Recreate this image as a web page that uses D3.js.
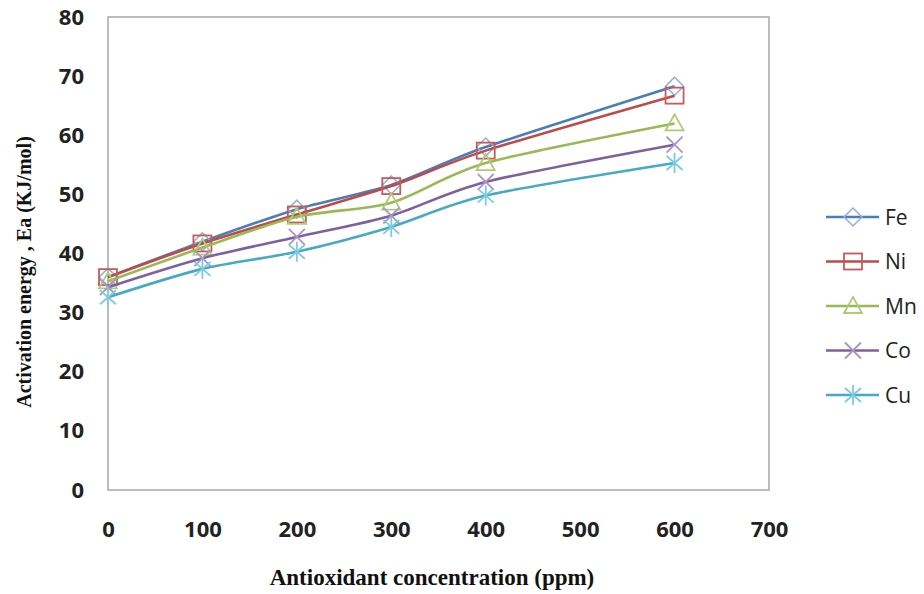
<!DOCTYPE html>
<html><head><meta charset="utf-8">
<script src="https://cdn.jsdelivr.net/npm/d3@7"></script>
<style>body{margin:0;background:#fff}svg{display:block}</style>
</head><body>
<script>
const concentrations = [0, 100, 200, 300, 400, 600];
const seriesNames = ["Fe", "Ni", "Mn", "Co", "Cu"];
const fe = [36.0, 42.0, 47.5, 51.6, 58.0, 68.3];
const ni = [36.0, 41.7, 46.6, 51.4, 57.4, 66.7];
const mn = [35.3, 41.0, 46.2, 48.6, 55.3, 62.0];
const co = [34.3, 39.2, 42.8, 46.4, 52.1, 58.4];
const cu = [32.6, 37.4, 40.3, 44.5, 49.8, 55.3];
const xTicks = [0, 100, 200, 300, 400, 500, 600, 700];
const yTicks = [0, 10, 20, 30, 40, 50, 60, 70, 80];
const lineColors = ["#4A7EBB", "#BE4B48", "#98B954", "#7D60A0", "#46AAC5"];
const markerColors = ["#8EB0DA", "#C65B58", "#AFCB78", "#A995C4", "#7FCBDE"];
const markerTypes = ["diamond", "square", "triangle", "cross", "asterisk"];
const allValues = [fe, ni, mn, co, cu];

const W = 924, H = 594;
const svg = d3.select("body").append("svg").attr("width", W).attr("height", H);
const m = {left: 108, top: 17, right: 769, bottom: 490};
const x = d3.scaleLinear().domain([0, 700]).range([m.left, m.right]);
const y = d3.scaleLinear().domain([0, 80]).range([m.bottom, m.top]);

// frame
svg.append("rect").attr("x", m.left).attr("y", m.top)
  .attr("width", m.right - m.left).attr("height", m.bottom - m.top)
  .attr("fill", "none").attr("stroke", "#a6a6a6").attr("stroke-width", 1.5);

const tickFont = "'Open Sans', 'DejaVu Sans', sans-serif";
const yAxis = d3.axisLeft(y).tickValues(yTicks).tickSize(0).tickPadding(24);
const gy = svg.append("g").attr("transform", `translate(${m.left},0)`).call(yAxis);
gy.select(".domain").remove();
gy.selectAll("text").attr("font-family", tickFont).attr("font-size", 22).attr("font-weight", "bold").attr("fill", "#222");

const xAxis = d3.axisBottom(x).tickValues(xTicks).tickSize(0).tickPadding(31);
const gx = svg.append("g").attr("transform", `translate(0,${m.bottom})`).call(xAxis);
gx.select(".domain").remove();
gx.selectAll("text").attr("font-family", tickFont).attr("font-size", 22).attr("font-weight", "bold").attr("fill", "#222");

function drawMarker(g, type, cx, cy, color) {
  const s = 9;
  if (type === "diamond") {
    g.append("path").attr("d", `M${cx},${cy - s}L${cx + s},${cy}L${cx},${cy + s}L${cx - s},${cy}Z`)
      .attr("fill", "none").attr("stroke", color).attr("stroke-width", 1.5);
  } else if (type === "square") {
    g.append("rect").attr("x", cx - 9).attr("y", cy - 8).attr("width", 18).attr("height", 16)
      .attr("fill", "none").attr("stroke", color).attr("stroke-width", 1.8);
  } else if (type === "triangle") {
    g.append("path").attr("d", `M${cx},${cy - 9}L${cx + 9},${cy + 7}L${cx - 9},${cy + 7}Z`)
      .attr("fill", "none").attr("stroke", color).attr("stroke-width", 1.8);
  } else if (type === "cross") {
    g.append("path").attr("d", `M${cx - 8},${cy - 8}L${cx + 8},${cy + 8}M${cx - 8},${cy + 8}L${cx + 8},${cy - 8}`)
      .attr("stroke", color).attr("stroke-width", 1.8);
  } else {
    g.append("path").attr("d", `M${cx - 8},${cy - 7}L${cx + 8},${cy + 7}M${cx - 8},${cy + 7}L${cx + 8},${cy - 7}M${cx},${cy - 10}L${cx},${cy + 10}`)
      .attr("stroke", color).attr("stroke-width", 1.8);
  }
}

const line = d3.line().x(d => x(d[0])).y(d => y(d[1])).curve(d3.curveCardinal.tension(0.2));

allValues.forEach((vals, i) => {
  const pts = concentrations.map((c, j) => [c, vals[j]]);
  const g = svg.append("g");
  g.append("path").datum(pts).attr("d", line).attr("fill", "none")
    .attr("stroke", lineColors[i]).attr("stroke-width", 2.6);
  pts.forEach(p => drawMarker(g, markerTypes[i], x(p[0]), y(p[1]), markerColors[i]));
});

// legend
const legY0 = 217, legStep = 44.5;
seriesNames.forEach((name, i) => {
  const ly = legY0 + i * legStep;
  const g = svg.append("g");
  g.append("line").attr("x1", 826).attr("x2", 879).attr("y1", ly).attr("y2", ly)
    .attr("stroke", lineColors[i]).attr("stroke-width", 2.6);
  drawMarker(g, markerTypes[i], 853, ly, markerColors[i]);
  g.append("text").attr("x", 885).attr("y", ly).attr("dy", "0.36em")
    .attr("font-family", tickFont).attr("font-size", 21).attr("fill", "#222").text(name);
});

// axis titles
svg.append("text").attr("x", 432).attr("y", 585).attr("text-anchor", "middle")
  .attr("font-family", "'Liberation Serif', 'Times New Roman', serif").attr("font-weight", "bold")
  .attr("font-size", 23).attr("fill", "#111").text("Antioxidant concentration (ppm)");
svg.append("text").attr("transform", "translate(31,272) rotate(-90)").attr("text-anchor", "middle")
  .attr("font-family", "'Liberation Serif', 'Times New Roman', serif").attr("font-weight", "bold")
  .attr("font-size", 20).attr("fill", "#111").text("Activation energy , Ea (KJ/mol)");
</script>
</body></html>
